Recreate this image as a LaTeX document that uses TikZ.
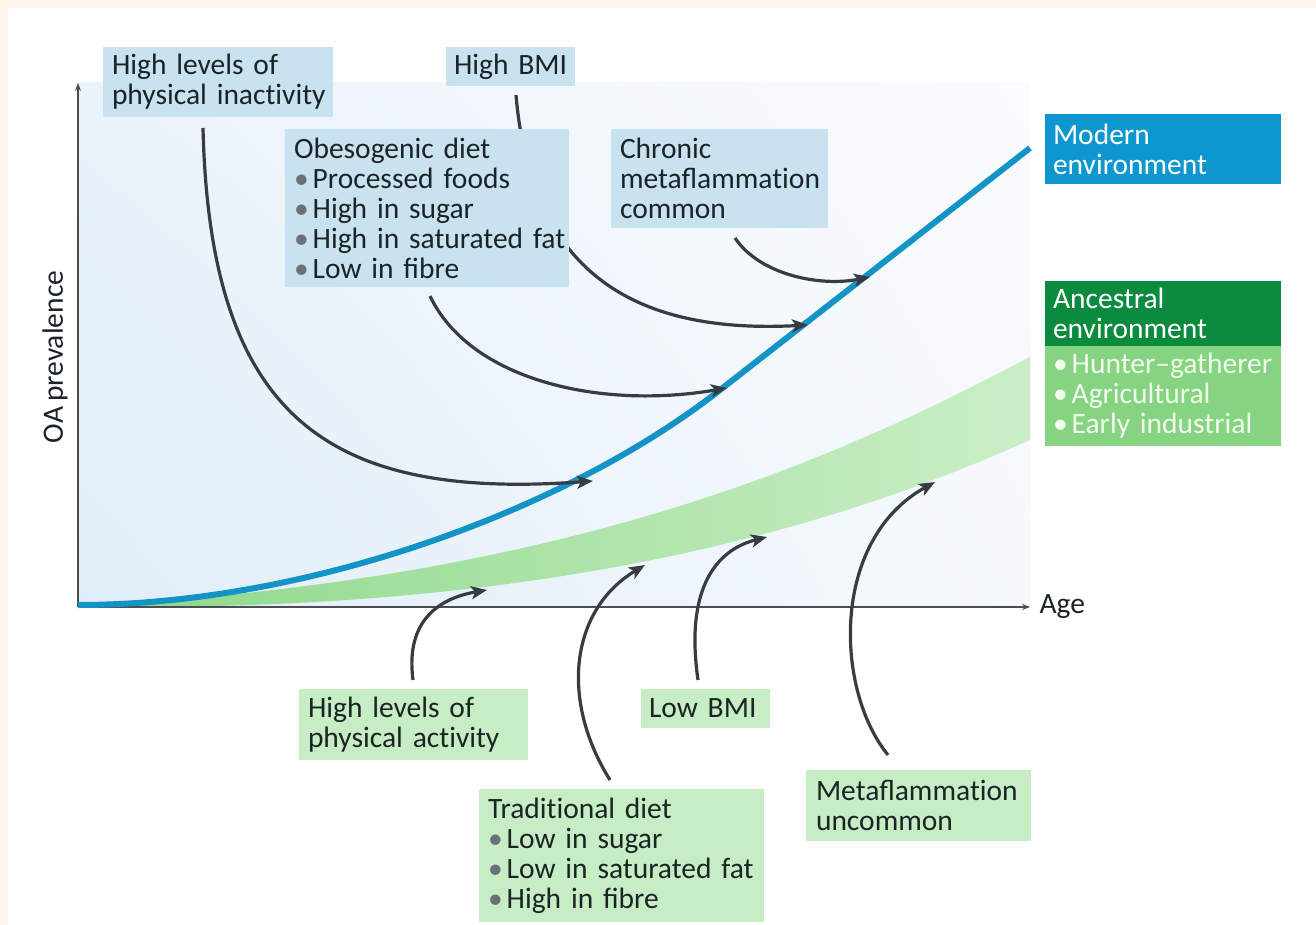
\documentclass[tikz,border=0pt]{standalone}
\usepackage{fontspec}
\setmainfont{Carlito}
\usetikzlibrary{arrows.meta,calc,shadings}

\definecolor{cream}{HTML}{FDF5EA}
\definecolor{inkdark}{HTML}{1C2327}
\definecolor{bulgray}{HTML}{6A7075}
\definecolor{arrowgray}{HTML}{363C42}
\definecolor{axisgray}{HTML}{4A4E52}
\definecolor{boxblue}{HTML}{C9E2EF}
\definecolor{boxgreen}{HTML}{C6EDC3}
\definecolor{modernblue}{HTML}{0D97CE}
\definecolor{curveblue}{HTML}{1493C6}
\definecolor{ancdark}{HTML}{0A8B3E}
\definecolor{anclight}{HTML}{86D482}
\definecolor{anctext}{HTML}{F1FCEF}
\definecolor{bandL}{HTML}{8CD889}
\definecolor{bandM}{HTML}{9EDE99}
\definecolor{bandR}{HTML}{CBEEC6}
\definecolor{bgUL}{HTML}{EBF3FA}
\definecolor{bgLL}{HTML}{E0EDF8}
\definecolor{bgUR}{HTML}{FAFCFE}
\definecolor{bgLR}{HTML}{F5F9FC}

\newcommand\itembul{{\color{bulgray}\textbullet}\kern4pt}
\newcommand\itembulw{\textbullet\kern4pt}
% keeps "t" and "i" as separate letters
\newcommand\tI{t\kern0pt i}
% label type: 29.5pt on 30pt, slightly tighter word spaces
\newcommand\lblfont{\fontsize{29.5}{30}\selectfont
  \spaceskip=5pt plus 2pt minus 1pt\relax}

\tikzset{
  lbl/.style={font=\lblfont, text=inkdark},
  infobox/.style={lbl, anchor=north west, inner xsep=9pt, inner ysep=0pt,
    align=left, outer sep=0pt},
  bluebox/.style={infobox, fill=boxblue},
  greenbox/.style={infobox, fill=boxgreen},
  arr/.style={draw=arrowgray, line width=3.2pt,
    -{Stealth[length=16pt, width=13pt, inset=4pt]}},
  axisline/.style={draw=axisgray, line width=1.2pt,
    -{Stealth[length=8pt, width=6pt]}},
}

\begin{document}
\begin{tikzpicture}[x=1pt, y=-1pt]
\useasboundingbox (0,0) rectangle (1316,925);

% page and frame
\fill[white] (0,0) rectangle (1316,925);
\fill[cream] (0,0) rectangle (1316,8);
\fill[cream] (0,0) rectangle (8,925);

% plot area
\shade[upper left=bgUL, lower left=bgLL, upper right=bgUR, lower right=bgLR]
  (78,83) rectangle (1030,607);

% ancestral band
\shade[left color=bandL, middle color=bandM, right color=bandR]
  (78,606) .. controls (600,580) and (870,440) .. (1030,357)
  -- (1030,440) .. controls (830,530) and (560,605) .. (150,607) -- cycle;

% axes
\coordinate (origin) at (78,607);
\coordinate (ytop) at (78,83);
\coordinate (xend) at (1030,607);
\draw[axisline] (origin) -- (ytop);
\draw[axisline] (origin) -- (xend);
\node[lbl, anchor=west] (agelbl) at (1036,607) {Age};
\node[lbl, rotate=90] (oalbl) at (55,357) {OA prevalence};

% modern curve
\draw[curveblue, line width=6pt]
  (78,605) .. controls (300,605) and (560,515) .. (720,390) -- (1030,148);

% connector end points on the curves
\coordinate (eA) at (593,481);
\coordinate (eB) at (808,325);
\coordinate (eC) at (727,388);
\coordinate (eD) at (870,277);
\coordinate (eE) at (487,590);
\coordinate (eF) at (645,565);
\coordinate (eG) at (767,537);
\coordinate (eH) at (935,482);

% connector start points beside the labels
\coordinate (sA) at (203,128);
\coordinate (sB) at (516,95);
\coordinate (sC) at (430,296);
\coordinate (sD) at (735,238);
\coordinate (sE) at (413,680);
\coordinate (sF) at (610,780);
\coordinate (sG) at (698,680);
\coordinate (sH) at (888,755);

% connectors
\draw[arr] (sA) .. controls (210,420) and (330,500) .. (eA);
\draw[arr] (sB) .. controls (530,260) and (620,335) .. (eB);
\draw[arr] (sC) .. controls (470,380) and (600,410) .. (eC);
\draw[arr] (sD) .. controls (760,275) and (820,287) .. (eD);
\draw[arr] (sE) .. controls (405,620) and (440,598) .. (eE);
\draw[arr] (sF) .. controls (560,700) and (570,610) .. (eF);
\draw[arr] (sG) .. controls (685,590) and (715,550) .. (eG);
\draw[arr] (sH) .. controls (835,690) and (830,540) .. (eH);

% modern-environment factors
\node[bluebox, minimum width=230pt, minimum height=70pt, text width=212pt]
  (inact) at (103,47) {\mbox{High levels of}\\\mbox{physical inac\tI vity}};
\node[bluebox, minimum width=129pt, minimum height=39pt, text width=113pt, inner xsep=8pt]
  (hbmi) at (446,47) {\mbox{High BMI}};
\node[bluebox, minimum width=284pt, minimum height=158pt, text width=266pt]
  (obes) at (285,129) {\mbox{Obesogenic diet}\\
    \mbox{\itembul Processed foods}\\
    \mbox{\itembul High in sugar}\\
    \mbox{\itembul High in saturated fat}\\
    \mbox{\itembul Low in fibre}};
\node[bluebox, minimum width=217pt, minimum height=99pt, text width=199pt]
  (chron) at (611,129) {\mbox{Chronic}\\\mbox{metaflamma\tI on}\\\mbox{common}};

% legend
\node[infobox, fill=modernblue, text=white, inner xsep=8pt,
  minimum width=236pt, minimum height=70pt, text width=220pt]
  (modern) at (1045,114) {\mbox{Modern}\\\mbox{environment}};
\node[infobox, fill=ancdark, text=white, inner xsep=8pt,
  minimum width=236pt, minimum height=65pt, text width=220pt]
  (anchead) at (1045,281) {\mbox{Ancestral}\\\mbox{environment}};
\node[infobox, fill=anclight, text=anctext, inner xsep=8pt,
  minimum width=236pt, minimum height=100pt, text width=220pt]
  (anclist) at (1045,346) {\mbox{\itembulw Hunter--gatherer}\\
    \mbox{\itembulw Agricultural}\\
    \mbox{\itembulw Early industrial}};

% ancestral-environment factors
\node[greenbox, minimum width=229pt, minimum height=71pt, text width=211pt]
  (act) at (299,689) {\mbox{High levels of}\\\mbox{physical ac\tI vity}};
\node[greenbox, minimum width=129pt, minimum height=39pt, text width=113pt, inner xsep=8pt]
  (lbmi) at (641,689) {\mbox{Low BMI}};
\node[greenbox, minimum width=285pt, minimum height=133pt, text width=267pt]
  (trad) at (479,789) {\mbox{Tradi\tI onal diet}\\
    \mbox{\itembul Low in sugar}\\
    \mbox{\itembul Low in saturated fat}\\
    \mbox{\itembul High in fibre}};
\node[greenbox, minimum width=223pt, minimum height=71pt, text width=205pt, inner xsep=10pt]
  (metu) at (806,770) {\mbox{Metaflamma\tI on}\\\mbox{uncommon}};

\end{tikzpicture}
\end{document}
